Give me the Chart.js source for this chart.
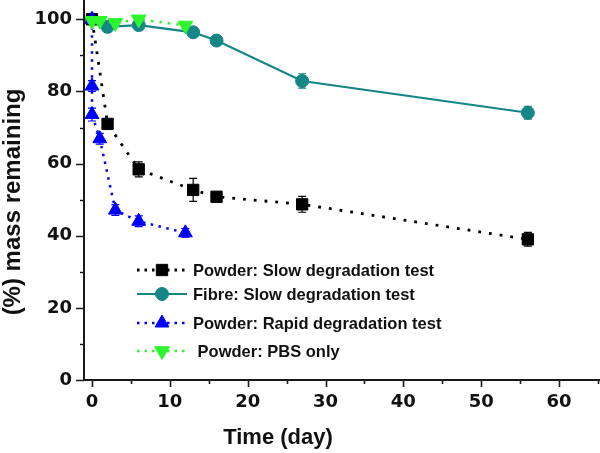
<!DOCTYPE html>
<html>
<head>
<meta charset="utf-8">
<script src="https://cdn.jsdelivr.net/npm/chart.js@4.4.0/dist/chart.umd.min.js"></script>
<style>
  html, body { margin: 0; padding: 0; background: #fff; }
  #wrap { width: 600px; height: 453px; position: relative; }
</style>
</head>
<body>
<div id="wrap"><canvas id="c" width="600" height="453"></canvas></div>
<script>
// ---- data ----
const seriesNames = ['Powder: Slow degradation test', 'Fibre: Slow degradation test', 'Powder: Rapid degradation test', ' Powder: PBS only'];

const daysSlowPowder = [0, 2, 6, 13, 16, 27, 56];
const massSlowPowder = [100, 71.0, 58.4, 52.7, 50.8, 48.7, 39.0];
const errSlowPowder  = [0.5, 0.6, 2.1, 3.2, 0.6, 2.2, 1.9];

const daysFibre = [0, 2, 6, 13, 16, 27, 56];
const massFibre = [100, 97.9, 98.4, 96.4, 94.1, 82.9, 74.1];
const errFibre  = [0.5, 0.5, 0.6, 0.8, 0.6, 2.0, 1.8];

const daysRapid = [0, 0, 0, 1, 3, 6, 12];
const massRapid = [100, 81.5, 73.6, 66.9, 47.1, 44.0, 40.8];
const errRapid  = [0.5, 1.5, 1.8, 1.5, 1.5, 1.5, 1.2];

const daysPBS = [0, 1, 3, 6, 12];
const massPBS = [99.6, 99.6, 99.0, 100.0, 98.3];
const errPBS  = [0.8, 0.8, 0.8, 0.8, 0.8];

const xMajorTicks = [0, 10, 20, 30, 40, 50, 60];
const xMinorTicks = [5, 15, 25, 35, 45, 55, 65];
const yMajorTicks = [0, 20, 40, 60, 80, 100];
const yMinorTicks = [10, 30, 50, 70, 90];

// where the reference puts x = 0 / 60 and y = 0 / 100 (pixels)
const X0_PX = 92, X60_PX = 559, Y0_PX = 380, Y100_PX = 19.3;

function pts(xs, ys) { return xs.map((x, i) => ({ x: x, y: ys[i] })); }

const COL_BLACK = '#000000', COL_TEAL = '#158686', COL_BLUE = '#0000ff', COL_GREEN = '#2ef52e';

const datasets = [
  { label: seriesNames[0], data: pts(daysSlowPowder, massSlowPowder), err: errSlowPowder,
    borderColor: COL_BLACK, backgroundColor: COL_BLACK, borderWidth: 2.8, borderDash: [2.8, 8],
    pointStyle: 'rect', pointRadius: 8, pointBorderWidth: 1, order: 3 },
  { label: seriesNames[1], data: pts(daysFibre, massFibre), err: errFibre,
    borderColor: COL_TEAL, backgroundColor: COL_TEAL, borderWidth: 2.2, borderDash: [],
    pointStyle: 'circle', pointRadius: 6.5, pointBorderWidth: 1, order: 4 },
  { label: seriesNames[2], data: pts(daysRapid, massRapid), err: errRapid,
    borderColor: COL_BLUE, backgroundColor: COL_BLUE, borderWidth: 2.5, borderDash: [2.5, 5.5],
    pointStyle: 'triangle', pointRadius: 8, pointBorderWidth: 1, order: 2 },
  { label: seriesNames[3], data: pts(daysPBS, massPBS), err: errPBS,
    borderColor: COL_GREEN, backgroundColor: COL_GREEN, borderWidth: 2.5, borderDash: [2.5, 6],
    pointStyle: 'triangle', pointRotation: 180, pointRadius: 8.5, pointBorderWidth: 1, order: 1 }
];
datasets.forEach(d => {
  d.showLine = true; d.tension = 0; d.fill = false; d.clip = false;
  d.pointBackgroundColor = d.borderColor; d.pointBorderColor = d.borderColor;
});

const TICK_FONT = { family: '"DejaVu Sans"', size: 18, weight: 'bold' };
const LEGEND_DASH = [[2.5, 5], [], [2.5, 5], [2.5, 5]];

const extras = {
  id: 'extras',
  beforeDatasetsDraw(chart) {
    const ctx = chart.ctx, xs = chart.scales.x, ys = chart.scales.y;
    ctx.save();
    chart.data.datasets.forEach(ds => {
      ctx.strokeStyle = ds.borderColor; ctx.lineWidth = 1.2; ctx.setLineDash([]);
      ds.data.forEach((p, i) => {
        const e = ds.err[i]; if (!e) return;
        const px = xs.getPixelForValue(p.x);
        const y1 = ys.getPixelForValue(p.y + e), y2 = ys.getPixelForValue(p.y - e);
        ctx.beginPath();
        ctx.moveTo(px, y1); ctx.lineTo(px, y2);
        ctx.moveTo(px - 4, y1); ctx.lineTo(px + 4, y1);
        ctx.moveTo(px - 4, y2); ctx.lineTo(px + 4, y2);
        ctx.stroke();
      });
    });
    ctx.restore();
  },
  afterDraw(chart) {
    const ctx = chart.ctx, xs = chart.scales.x, ys = chart.scales.y, ca = chart.chartArea;
    ctx.save();
    ctx.strokeStyle = '#1a1a1a'; ctx.setLineDash([]);
    // axis lines running to the picture edges
    ctx.lineWidth = 2;
    ctx.beginPath();
    ctx.moveTo(ca.left, ca.bottom); ctx.lineTo(chart.width, ca.bottom);
    ctx.moveTo(ca.left, ca.bottom); ctx.lineTo(ca.left, 0);
    ctx.stroke();
    ctx.lineWidth = 1.6;
    ctx.beginPath();
    xMajorTicks.forEach(v => { const p = Math.round(xs.getPixelForValue(v)) + 0.5; ctx.moveTo(p, ca.bottom); ctx.lineTo(p, ca.bottom + 7); });
    xMinorTicks.forEach(v => { const p = Math.round(xs.getPixelForValue(v)) + 0.5; ctx.moveTo(p, ca.bottom); ctx.lineTo(p, ca.bottom + 4); });
    yMajorTicks.forEach(v => { const p = Math.round(ys.getPixelForValue(v)) + 0.5; ctx.moveTo(ca.left, p); ctx.lineTo(ca.left - 8, p); });
    yMinorTicks.forEach(v => { const p = Math.round(ys.getPixelForValue(v)) + 0.5; ctx.moveTo(ca.left, p); ctx.lineTo(ca.left - 4, p); });
    ctx.stroke();

    // axis titles
    ctx.fillStyle = '#111';
    ctx.textAlign = 'center'; ctx.textBaseline = 'middle';
    ctx.font = 'bold 22px "Liberation Sans", Arial, sans-serif';
    ctx.fillText('Time (day)', 278, 438);
    ctx.save();
    ctx.translate(13, 202);
    ctx.rotate(-Math.PI / 2);
    ctx.font = 'bold 24px "Liberation Sans", Arial, sans-serif';
    ctx.fillText('(%) mass remaining', 0, 0);
    ctx.restore();

    // legend
    const rowsY = [270, 294, 323, 351];
    const x1 = 137, x2 = 187, xm = 162;
    chart.data.datasets.forEach((ds, i) => {
      const y = rowsY[i];
      ctx.strokeStyle = ds.borderColor; ctx.lineWidth = ds.borderWidth;
      ctx.setLineDash(LEGEND_DASH[i]);
      ctx.beginPath(); ctx.moveTo(x1, y); ctx.lineTo(x2, y); ctx.stroke();
      ctx.setLineDash([]);
      ctx.fillStyle = ds.borderColor; ctx.strokeStyle = ds.borderColor; ctx.lineWidth = 1;
      Chart.helpers.drawPoint(ctx, { pointStyle: ds.pointStyle, radius: ds.pointRadius, rotation: ds.pointRotation || 0, borderWidth: 1 }, xm, y);
      ctx.fillStyle = '#111';
      ctx.textAlign = 'left'; ctx.textBaseline = 'middle';
      ctx.font = 'bold 16.5px "Liberation Sans", Arial, sans-serif';
      ctx.fillText(ds.label, 193, y + 1);
    });
    ctx.restore();
  }
};

function zeroPad(axis) {
  axis.paddingTop = 0; axis.paddingBottom = 0; axis.paddingLeft = 0; axis.paddingRight = 0;
  if (axis._margins) { axis._margins.top = 0; axis._margins.bottom = 0; axis._margins.left = 0; axis._margins.right = 0; }
}

const chart = new Chart(document.getElementById('c'), {
  type: 'scatter',
  data: { datasets: datasets },
  plugins: [extras],
  options: {
    responsive: false,
    animation: false,
    devicePixelRatio: 1,
    layout: { padding: 0 },
    plugins: { legend: { display: false }, tooltip: { enabled: false } },
    scales: {
      x: {
        type: 'linear', min: -1.03, max: 65.27,
        afterBuildTicks: axis => { axis.ticks = [axis.min].concat(xMajorTicks, xMinorTicks.filter(v => v < axis.max)).sort((a, b) => a - b).concat([axis.max]).map(v => ({ value: v })); },
        afterFit: axis => { axis.height = 73; zeroPad(axis); },
        grid: { display: true, drawOnChartArea: false, drawTicks: false },
        border: { display: false },
        ticks: { padding: 12, color: '#111', font: TICK_FONT, autoSkip: false, maxRotation: 0,
          callback: v => xMajorTicks.includes(v) ? String(v) : null }
      },
      y: {
        type: 'linear', min: 0, max: 105.35,
        afterBuildTicks: axis => { axis.ticks = [axis.min].concat(yMinorTicks, yMajorTicks.slice(1)).sort((a, b) => a - b).concat([axis.max]).map(v => ({ value: v })); },
        afterFit: axis => { axis.width = 84; zeroPad(axis); },
        grid: { display: true, drawOnChartArea: false, drawTicks: false },
        border: { display: false },
        ticks: { padding: 12, color: '#111', font: TICK_FONT, autoSkip: false,
          callback: v => yMajorTicks.includes(v) ? String(v) : null }
      }
    }
  }
});

// fit the scale ranges to the real chart area so values land where the reference puts them
(function () {
  const ca = chart.chartArea;
  const pxPerX = (X60_PX - X0_PX) / 60, pxPerY = (Y0_PX - Y100_PX) / 100;
  chart.options.scales.x.min = (ca.left - X0_PX) / pxPerX;
  chart.options.scales.x.max = (ca.right - X0_PX) / pxPerX;
  chart.options.scales.y.min = (Y0_PX - ca.bottom) / pxPerY;
  chart.options.scales.y.max = (Y0_PX - ca.top) / pxPerY;
  chart.update('none');
})();
</script>
</body>
</html>
